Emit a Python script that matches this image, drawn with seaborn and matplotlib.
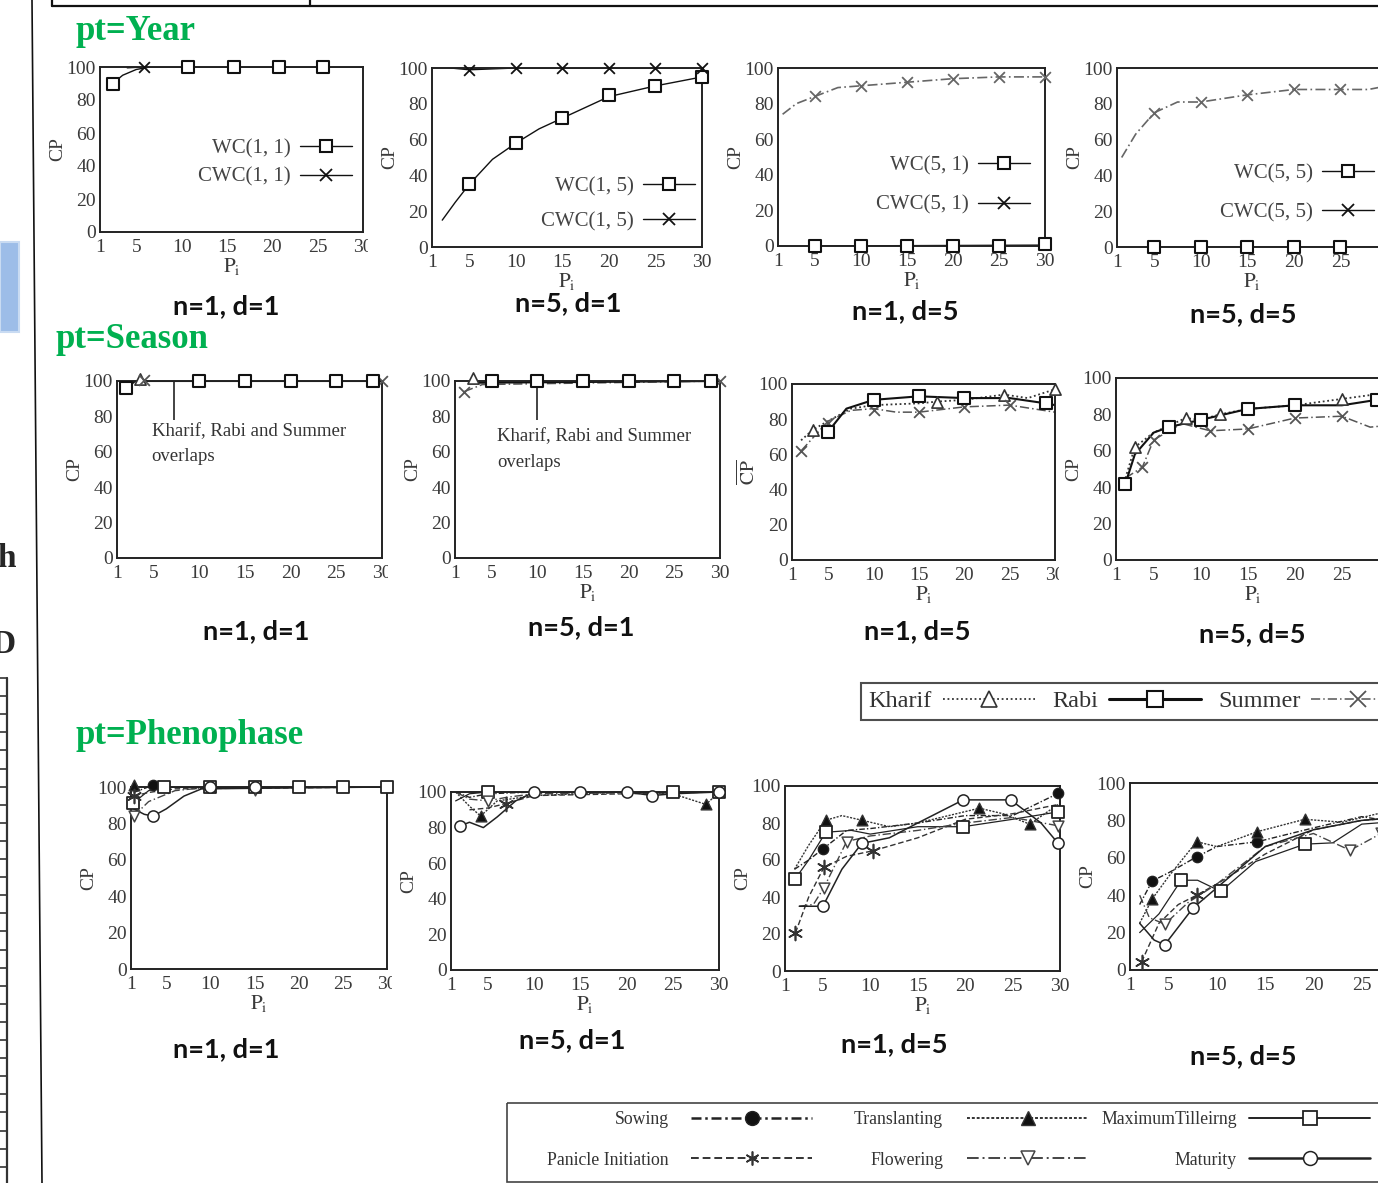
import numpy as np
import matplotlib.pyplot as plt
from matplotlib.lines import Line2D
from matplotlib.patches import Rectangle
import seaborn as sns

W, H = 1378, 1183
X_TICKS = [1, 5, 10, 15, 20, 25, 30]
Y_TICKS = [0, 20, 40, 60, 80, 100]

# ---- pt=Year : WC / CWC (lx/ly = curve, mx/my = markers)
year11_wc = dict(lx=[2.4, 3.5, 5, 6.5, 30], ly=[90, 95, 98.5, 100, 100],
                 mx=[2.4, 10.7, 15.8, 20.7, 25.6], my=[90, 100, 100, 100, 100])
year11_cwc = dict(lx=[4, 5.8, 8], ly=[99.5, 100, 100], mx=[5.8], my=[100])
year15_wc = dict(lx=[2.1, 3.5, 5, 7.5, 10, 12.5, 15, 20, 25, 30],
                 ly=[15, 25, 35, 49, 58, 66, 72, 84, 90, 95],
                 mx=[5, 10, 15, 20, 25, 30], my=[35, 58, 72, 85, 90, 95])
year15_cwc = dict(lx=[3, 5, 10, 30], ly=[100, 99, 100, 100],
                  mx=[5, 10, 15, 20, 25, 30], my=[99, 100, 100, 100, 100, 100])
year51_wc = dict(lx=[5, 30], ly=[0, 0.5],
                 mx=[5, 10, 15, 20, 25, 30], my=[0, 0, 0, 0, 0, 1])
year51_cwc = dict(lx=[1.5, 3, 5, 7.5, 10, 15, 20, 25, 30],
                  ly=[74, 80, 84, 89, 90, 92, 94, 95, 95],
                  mx=[5, 10, 15, 20, 25, 30], my=[84, 90, 92, 94, 95, 95])
year55_wc = dict(lx=[5, 30], ly=[0, 0],
                 mx=[5, 10, 15, 20, 25, 30], my=[0, 0, 0, 0, 0, 0])
year55_cwc = dict(lx=[1.5, 3, 5, 7.5, 10, 12.5, 15, 20, 25, 28, 30],
                  ly=[50, 63, 75, 81, 81, 83, 85, 88, 88, 88, 90],
                  mx=[5, 10, 15, 20, 25, 30], my=[75, 81, 85, 88, 88, 90])

# ---- pt=Season : Kharif / Rabi / Summer
season11_kharif = dict(lx=[2, 30], ly=[100, 100], mx=[3.5], my=[101])
season11_rabi = dict(lx=[2, 3, 30], ly=[96, 100, 100],
                     mx=[2, 10, 15, 20, 25, 29], my=[96, 100, 100, 100, 100, 100])
season11_summer = dict(lx=[3, 30], ly=[100, 100], mx=[4, 30], my=[100.5, 100])
season15_kharif = dict(lx=[3, 30], ly=[101, 100], mx=[3], my=[101.5])
season15_rabi = dict(lx=[3, 30], ly=[99, 100],
                     mx=[5, 10, 15, 20, 25, 29], my=[100, 100, 100, 100, 100, 100])
season15_summer = dict(lx=[2, 4, 30], ly=[94, 98, 100], mx=[2, 30], my=[94, 100])
season51_kharif = dict(lx=[2, 3.3, 5, 7.5, 10, 15, 17, 20, 24.4, 27, 30],
                       ly=[68, 74, 79, 86, 88, 89, 90, 91, 94, 92, 97],
                       mx=[3.3, 17, 24.4, 30], my=[74, 90, 94, 97])
season51_rabi = dict(lx=[5, 7, 10, 15, 20, 25, 29, 30],
                     ly=[73, 86, 91, 93, 92, 92, 89, 88],
                     mx=[5, 10, 15, 20, 29], my=[73, 91, 93, 92, 89])
season51_summer = dict(lx=[2, 5, 7.5, 10, 12.5, 15, 20, 25, 30],
                       ly=[62, 79, 85, 86, 84, 84, 87, 88, 84],
                       mx=[2, 5, 10, 15, 20, 25], my=[62, 78, 85, 84, 87, 88])
season55_kharif = dict(lx=[2, 3, 5, 8.4, 10, 12, 15, 20, 25, 30],
                       ly=[45, 62, 70, 78, 77, 80, 83, 85, 88.5, 92],
                       mx=[3, 8.4, 12, 25], my=[62, 78, 80, 88.5])
season55_rabi = dict(lx=[2, 3, 5, 6.6, 10, 15, 20, 25, 28.7, 30],
                     ly=[42, 58, 70, 73, 77, 83, 85, 85, 88, 88],
                     mx=[2, 6.6, 10, 15, 20, 28.7], my=[42, 73, 77, 83, 85, 88])
season55_summer = dict(lx=[2, 3.8, 5, 8, 11, 15, 20, 25, 28, 30],
                       ly=[45, 51, 66, 75, 71, 72, 78, 79, 73, 74],
                       mx=[3.8, 5, 11, 15, 20, 25], my=[51, 66, 71, 72, 78, 79])

# ---- pt=Phenophase : six phenophases
pheno11_sow = dict(lx=[1.3, 3.5, 6, 30], ly=[97, 101, 100, 100], mx=[3.5], my=[101])
pheno11_tra = dict(lx=[1.3, 5, 30], ly=[101, 100, 100], mx=[1.3], my=[101])
pheno11_max = dict(lx=[1.2, 3, 4.7, 30], ly=[91, 98, 100, 100],
                   mx=[1.2, 4.7, 10, 15, 20, 25, 30], my=[91, 100, 100, 100, 100, 100, 100])
pheno11_pan = dict(lx=[1.3, 3, 6, 30], ly=[95, 97, 99, 100], mx=[1.3], my=[95])
pheno11_flo = dict(lx=[1.3, 3, 6, 10, 30], ly=[84, 92, 98, 100, 100], mx=[1.3, 15], my=[84, 98.5])
pheno11_mat = dict(lx=[1.3, 2.5, 3.5, 5, 7, 9, 30], ly=[88, 85, 84, 88, 95, 99, 100],
                   mx=[3.5, 10, 15], my=[84, 100, 100])

pheno15_sow = dict(lx=[1.5, 3, 5, 10, 30], ly=[100, 97, 99, 100, 100], mx=[], my=[])
pheno15_tra = dict(lx=[1.5, 3, 4.2, 6, 10, 20, 25, 28.6, 30],
                   ly=[100, 92, 86.5, 95, 98, 100, 99, 93, 100], mx=[4.2, 28.6], my=[86.5, 93])
pheno15_max = dict(lx=[1.5, 3, 5, 30], ly=[95, 99, 100, 100], mx=[5, 25, 30], my=[100, 100, 100])
pheno15_pan = dict(lx=[3, 5, 6.9, 10, 30], ly=[90, 91, 93.5, 98, 100], mx=[6.9], my=[93.5])
pheno15_flo = dict(lx=[1.5, 3, 5, 7, 10, 30], ly=[100, 96, 95, 97, 99, 100], mx=[5], my=[95])
pheno15_mat = dict(lx=[2, 3, 4.5, 6, 8, 10, 15, 20, 22.8, 25, 30],
                   ly=[81, 83, 80, 86, 95, 100, 100, 100, 98, 99, 100],
                   mx=[2, 10, 15, 20, 22.8, 30], my=[81, 100, 100, 100, 98, 100])

pheno51_sow = dict(lx=[2, 3.5, 5, 7.5, 10, 15, 20, 25, 29.8],
                   ly=[55, 60, 66, 76, 77, 80, 84, 84, 96], mx=[5, 29.8], my=[66, 96])
pheno51_tra = dict(lx=[2, 3.5, 5.3, 7, 9.1, 12, 15, 21.5, 24, 26.8, 29.8],
                   ly=[55, 68, 81.5, 84, 81.5, 78, 80, 88, 85, 79.4, 90],
                   mx=[5.3, 9.1, 21.5, 26.8], my=[81.5, 81.5, 88, 79.4])
pheno51_max = dict(lx=[2.1, 3.5, 5.3, 8, 10, 15, 19.8, 25, 29.8],
                   ly=[50, 60, 75, 76, 74, 78, 78, 82, 86],
                   mx=[2.1, 5.3, 19.8, 29.8], my=[50, 75.4, 77.6, 85.7])
pheno51_pan = dict(lx=[2.1, 3.5, 5.1, 7.5, 10.3, 15, 20, 25, 29.8],
                   ly=[20.6, 40, 56, 62, 65, 72, 82, 85, 90],
                   mx=[2.1, 5.1, 10.3], my=[20.6, 56, 65])
pheno51_flo = dict(lx=[2.5, 4, 5.1, 7.5, 10, 15, 20, 25, 29.8],
                   ly=[35, 36, 45, 70, 73, 76, 80, 83, 78.5],
                   mx=[5.1, 7.5, 29.8], my=[45, 70, 78.5])
pheno51_mat = dict(lx=[2.5, 3.5, 5, 7, 9.1, 12, 15, 19.8, 24.8, 28, 29.8],
                   ly=[35, 35, 35, 55, 69, 72, 80, 92.5, 92.5, 80, 69],
                   mx=[5, 9.1, 19.8, 24.8, 29.8], my=[35, 69, 92.5, 92.5, 69])

pheno55_sow = dict(lx=[2, 3.3, 5, 7.9, 10, 14.2, 20, 25, 30],
                   ly=[35, 47.6, 52, 60.5, 66, 68.6, 76, 82, 78],
                   mx=[3.3, 7.9, 14.2], my=[47.6, 60.5, 68.6])
pheno55_tra = dict(lx=[2, 3.3, 5, 7.9, 10, 14.2, 19.1, 23, 27, 30],
                   ly=[25, 38, 50, 68.6, 66, 74, 80.6, 79, 84, 87],
                   mx=[3.3, 7.9, 14.2, 19.1], my=[38, 68.6, 74, 80.6])
pheno55_max = dict(lx=[2, 4, 6.3, 8, 10.4, 14, 19.1, 22, 25, 30],
                   ly=[20, 30, 48, 48, 42, 58, 67.3, 68, 78, 80],
                   mx=[6.3, 10.4, 19.1], my=[48, 42, 67.3])
pheno55_pan = dict(lx=[2.2, 4, 6, 7.9, 10, 15, 20, 25, 30],
                   ly=[4.3, 25, 35, 40, 46, 62, 75, 80, 82],
                   mx=[2.2, 7.9], my=[4.3, 40])
pheno55_flo = dict(lx=[2, 3, 4.6, 7, 10, 15, 20, 23.8, 27, 30],
                   ly=[40, 28, 24.5, 36, 46, 66, 73, 64, 73, 76],
                   mx=[4.6, 23.8, 27], my=[24.5, 64, 73])
pheno55_mat = dict(lx=[2, 3.5, 4.6, 7.5, 10, 15, 20, 25, 30],
                   ly=[25, 16, 13.5, 33, 44, 66, 75, 80, 82],
                   mx=[4.6, 7.5], my=[13.5, 33])

# ---- styles
ST = {
    "wc": dict(color="#111", ls="-", lw=1.0, marker="s", face="white", s=75, mew=1.5),
    "cwc": dict(color="#111", ls="-", lw=1.0, marker="x", face=None, s=60, mew=1.3),
    "cwc_grey": dict(color="#666", ls=(0, (6, 2, 1, 2)), lw=1.2, marker="x", face=None, s=60, mew=1.3),
    "kharif": dict(color="#333", ls=(0, (1, 1.5)), lw=1.3, marker="^", face="white", s=65, mew=1.2),
    "rabi": dict(color="#111", ls="-", lw=1.5, marker="s", face="white", s=80, mew=1.5),
    "summer": dict(color="#555", ls=(0, (6, 2, 1, 2)), lw=1.1, marker="x", face=None, s=60, mew=1.3),
    "sow": dict(color="#222", ls=(0, (4, 1.5, 1, 1.5)), lw=1.0, marker="o", face="#111", s=55, mew=1.0),
    "tra": dict(color="#333", ls=(0, (1.5, 1)), lw=1.0, marker="^", face="#111", s=60, mew=1.0),
    "max": dict(color="#222", ls="-", lw=0.9, marker="s", face="white", s=70, mew=1.3),
    "pan": dict(color="#333", ls=(0, (4, 2)), lw=1.0, marker=(6, 2, 0), face=None, s=100, mew=1.2),
    "flo": dict(color="#444", ls=(0, (6, 2, 1, 2)), lw=1.0, marker="v", face="white", s=60, mew=1.1),
    "mat": dict(color="#222", ls="-", lw=1.1, marker="o", face="white", s=65, mew=1.1),
}


def draw_series(ax, s, st):
    sns.lineplot(x=s["lx"], y=s["ly"], ax=ax, color=st["color"], linestyle=st["ls"],
                 linewidth=st["lw"], estimator=None, sort=False, legend=False)
    if not s["mx"]:
        return
    kw = dict(marker=st["marker"], s=st["s"], linewidth=st["mew"], zorder=4,
              clip_on=False, legend=False, ax=ax)
    if st["face"] is None:
        sns.scatterplot(x=s["mx"], y=s["my"], color=st["color"], **kw)
    else:
        sns.scatterplot(x=s["mx"], y=s["my"], color=st["face"], edgecolor=st["color"], **kw)


def proxy(st, ms=9, ls=None, lw=None):
    return Line2D([], [], color=st["color"], ls=ls or st["ls"], lw=lw or st["lw"],
                  marker=st["marker"], ms=ms, mew=st["mew"],
                  mfc=st["face"] if st["face"] else st["color"], mec=st["color"])


def make_axes(fig, box, ylabel="CP", xlabel=True):
    x0, x1, y0, y1 = box
    ax = fig.add_axes([x0 / W, 1 - y1 / H, (x1 - x0) / W, (y1 - y0) / H])
    ax.set_xlim(1, 30)
    ax.set_ylim(0, 100)
    ax.set_xticks(X_TICKS)
    ax.set_yticks(Y_TICKS)
    ax.tick_params(direction="in", length=4, width=1, labelsize=14,
                   labelcolor="#3a3a3a", color="#222")
    ax.tick_params(axis="x", pad=5)
    ax.tick_params(axis="y", pad=3)
    for sp in ax.spines.values():
        sp.set_linewidth(1.4)
        sp.set_color("#222")
    ax.set_ylabel(ylabel, fontsize=14, color="#3a3a3a", labelpad=0)
    if xlabel:
        ax.set_xlabel(r"$\mathrm{P_i}$", fontsize=15, color="#3a3a3a", labelpad=0)
    return ax


def year_legend(ax, labels, anchor, spacing):
    ax.legend([proxy(ST["wc"]), proxy(ST["cwc"])], labels, loc="center right",
              bbox_to_anchor=anchor, markerfirst=False, frameon=False, fontsize=15,
              handlelength=2.5, handletextpad=0.45, borderpad=0, borderaxespad=0,
              labelspacing=spacing, labelcolor="#444")


sns.set_style("white")
plt.rcParams["font.family"] = ["Liberation Serif", "DejaVu Serif"]
plt.rcParams["mathtext.fontset"] = "stix"

fig = plt.figure(figsize=(W / 100, H / 100), dpi=100)

# ---- slide decorations behind the charts
bg = fig.add_axes([0, 0, 1, 1], zorder=-5)
bg.set_xlim(0, W)
bg.set_ylim(H, 0)
bg.axis("off")
bg.plot([52, W], [6, 6], color="#111", lw=1.6)
bg.plot([52, 52], [0, 6], color="#111", lw=1.6)
bg.plot([310, 310], [0, 6], color="#111", lw=1.6)
bg.plot([32, 42], [0, H], color="#111", lw=1.2)
bg.add_patch(Rectangle((0, 242), 19, 90, facecolor="#9DBDE8", edgecolor="#C9DBF2", lw=1.5))
bg.plot([7, 7], [678, H], color="#333", lw=1.6)
for yy in np.arange(678, H, 18.1):
    bg.plot([0, 7], [yy, yy], color="#333", lw=1.2)
bg.add_patch(Rectangle((507, 1103), 885, 79, facecolor="none", edgecolor="#444", lw=1.2))
fig.text(-0.002, 1 - 567 / H, "h", fontsize=24, fontweight="bold", ha="left", va="baseline")
fig.text(-9 / W, 1 - 653 / H, "D", fontsize=24, fontweight="bold", ha="left", va="baseline")

# ---- pt=Year
ax = make_axes(fig, (100, 363, 67, 232))
draw_series(ax, year11_wc, ST["wc"])
draw_series(ax, year11_cwc, ST["cwc"])
year_legend(ax, ["WC(1, 1)", "CWC(1, 1)"], (0.958, 0.42), 0.45)

ax = make_axes(fig, (432, 702, 68, 247))
draw_series(ax, year15_wc, ST["wc"])
draw_series(ax, year15_cwc, ST["cwc"])
year_legend(ax, ["WC(1, 5)", "CWC(1, 5)"], (0.974, 0.24), 0.75)

ax = make_axes(fig, (778, 1045, 68, 246))
draw_series(ax, year51_wc, ST["wc"])
draw_series(ax, year51_cwc, ST["cwc_grey"])
year_legend(ax, ["WC(5, 1)", "CWC(5, 1)"], (0.944, 0.34), 0.95)

ax = make_axes(fig, (1117, 1387, 68, 247))
draw_series(ax, year55_wc, ST["wc"])
draw_series(ax, year55_cwc, ST["cwc_grey"])
year_legend(ax, ["WC(5, 5)", "CWC(5, 5)"], (0.952, 0.30), 0.95)

# ---- pt=Season
ax = make_axes(fig, (117, 382, 381, 558), xlabel=False)
for s, k in [(season11_kharif, "kharif"), (season11_summer, "summer"), (season11_rabi, "rabi")]:
    draw_series(ax, s, ST[k])
ax.vlines(7.2, 78, 100, color="#222", lw=1.2)
ax.text(4.8, 76, "Kharif, Rabi and Summer\noverlaps", fontsize=13.5, color="#333",
        va="top", ha="left", linespacing=1.55)

ax = make_axes(fig, (455, 720, 381, 558))
for s, k in [(season15_kharif, "kharif"), (season15_summer, "summer"), (season15_rabi, "rabi")]:
    draw_series(ax, s, ST[k])
ax.vlines(10, 78, 100, color="#222", lw=1.2)
ax.text(5.6, 73.5, "Kharif, Rabi and Summer\noverlaps", fontsize=13.5, color="#333",
        va="top", ha="left", linespacing=1.7)

ax = make_axes(fig, (792, 1055, 384, 560), ylabel=r"$\overline{\mathrm{CP}}$")
for s, k in [(season51_kharif, "kharif"), (season51_summer, "summer"), (season51_rabi, "rabi")]:
    draw_series(ax, s, ST[k])

ax = make_axes(fig, (1116, 1389, 378, 560))
for s, k in [(season55_kharif, "kharif"), (season55_summer, "summer"), (season55_rabi, "rabi")]:
    draw_series(ax, s, ST[k])

leg = fig.legend([proxy(ST["kharif"], ms=12), proxy(ST["rabi"], ms=12, lw=2.2),
                  proxy(ST["summer"], ms=11)], ["Kharif", "Rabi", "Summer"],
                 loc="upper left", bbox_to_anchor=(861 / W, 1 - 683 / H), ncol=3,
                 markerfirst=False, frameon=True, fancybox=False, fontsize=17.5,
                 handlelength=3.8, handletextpad=0.45, columnspacing=0.7,
                 borderpad=0.3, borderaxespad=0, labelcolor="#333")
leg.get_frame().set_edgecolor("#222")
leg.get_frame().set_linewidth(1.5)

# ---- pt=Phenophase
order = ["sow", "tra", "max", "pan", "flo", "mat"]
pheno_panels = [
    ((131, 387, 787, 969), [pheno11_sow, pheno11_tra, pheno11_max, pheno11_pan, pheno11_flo, pheno11_mat], True),
    ((451, 719, 792, 970), [pheno15_sow, pheno15_tra, pheno15_max, pheno15_pan, pheno15_flo, pheno15_mat], True),
    ((785, 1060, 786, 971), [pheno51_sow, pheno51_tra, pheno51_max, pheno51_pan, pheno51_flo, pheno51_mat], True),
    ((1130, 1410, 783, 970), [pheno55_sow, pheno55_tra, pheno55_max, pheno55_pan, pheno55_flo, pheno55_mat], False),
]
for box, series, has_xlabel in pheno_panels:
    ax = make_axes(fig, box, xlabel=has_xlabel)
    for s, k in zip(series, order):
        draw_series(ax, s, ST[k])

# phenophase legend: three frameless columns inside the drawn box
pheno_names = {"sow": "Sowing", "pan": "Panicle Initiation", "tra": "Translanting",
               "flo": "Flowering", "max": "MaximumTilleirng", "mat": "Maturity"}
pheno_cols = [(["sow", "pan"], 812, 1.25), (["tra", "flo"], 1088, 1.35), (["max", "mat"], 1370, 0.7)]
for keys, right, pad in pheno_cols:
    lg = fig.legend([proxy(ST[k], ms=10, lw=1.8 if k in ("sow", "mat") else 1.4) for k in keys],
                    [pheno_names[k] for k in keys],
                    loc="center right", bbox_to_anchor=(right / W, 1 - 1140 / H),
                    markerfirst=False, frameon=False, fontsize=12.8,
                    handlelength=6.8, handletextpad=pad, labelspacing=1.3,
                    borderpad=0, borderaxespad=0, labelcolor="#333")

# ---- section titles and panel captions
green = "#00B050"
fig.text(76 / W, 1 - 40 / H, "pt=Year", color=green, fontsize=25, fontweight="bold", va="baseline")
fig.text(55 / W, 1 - 348 / H, "pt=Season", color=green, fontsize=25, fontweight="bold", va="baseline")
fig.text(76 / W, 1 - 744 / H, "pt=Phenophase", color=green, fontsize=25, fontweight="bold", va="baseline")

captions = [("n=1, d=1", 226, 306), ("n=5, d=1", 568, 303), ("n=1, d=5", 905, 311), ("n=5, d=5", 1243, 314),
            ("n=1, d=1", 256, 631), ("n=5, d=1", 581, 627), ("n=1, d=5", 917, 631), ("n=5, d=5", 1252, 634),
            ("n=1, d=1", 226, 1049), ("n=5, d=1", 572, 1040), ("n=1, d=5", 894, 1044), ("n=5, d=5", 1243, 1056)]
for txt, cx, cy in captions:
    fig.text(cx / W, 1 - cy / H, txt, fontsize=19.5, fontweight="bold", family=["Lato", "DejaVu Sans"],
             ha="center", va="center", color="#111")

# ---- white masks where the source screenshot cropped the "30" tick labels
fg = fig.add_axes([0, 0, 1, 1], zorder=20)
fg.set_xlim(0, W)
fg.set_ylim(H, 0)
fg.axis("off")
fg.patch.set_alpha(0)
for mx0, my0, mw, mh in [(368, 238, 24, 24), (388, 562, 22, 24), (1059, 565, 20, 24), (392, 974, 20, 24)]:
    fg.add_patch(Rectangle((mx0, my0), mw, mh, facecolor="white", edgecolor="none"))

fig.savefig("out.png", dpi=100)
